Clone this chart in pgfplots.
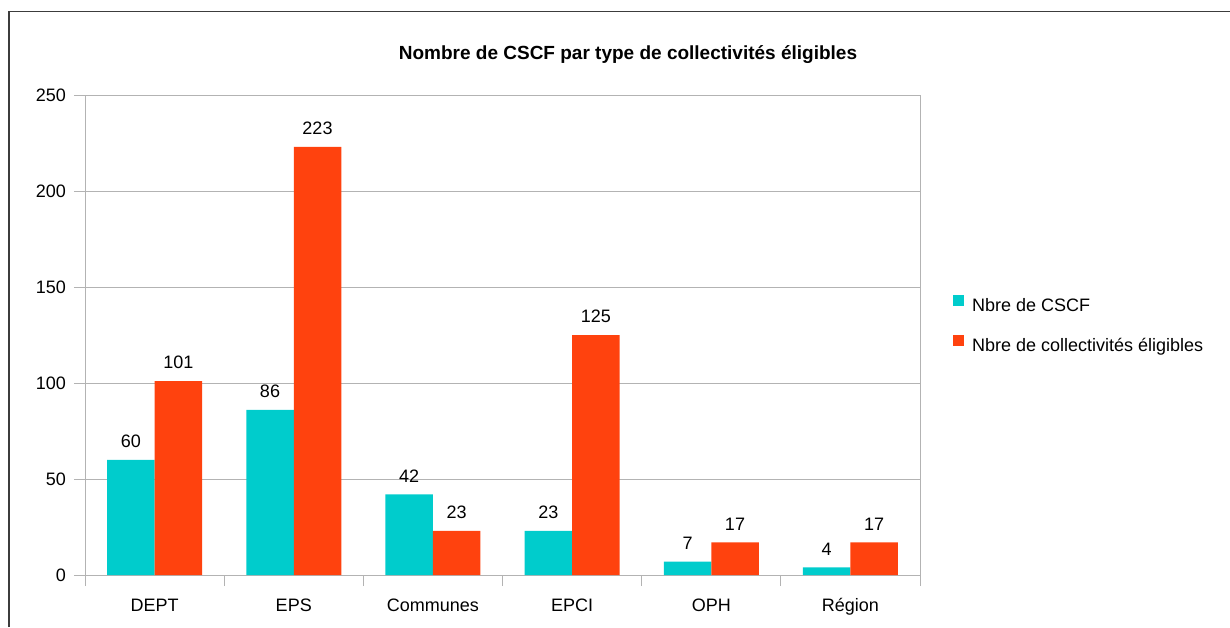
\documentclass[border=0pt]{standalone}
\usepackage{pgfplots}
\pgfplotsset{compat=1.18}
\usepackage{fontspec}
\setmainfont{Liberation Sans}
\definecolor{cyanbar}{RGB}{0,204,204}
\definecolor{orangebar}{RGB}{255,66,14}
\definecolor{gridgray}{RGB}{179,179,179}
\definecolor{framegray}{RGB}{60,60,60}
\begin{document}
\begin{tikzpicture}[x=1pt,y=1pt]
\useasboundingbox (0,0) rectangle (1230,-627);
\draw[line width=1.5pt, framegray] (9,-627) -- (9,-11.5) -- (1230,-11.5);
\node[font=\fontsize{19}{22}\selectfont\bfseries, inner sep=0pt] at (628,-54.5) {Nombre de CSCF par type de collectivités éligibles};
\begin{axis}[
  at={(85pt,-575pt)}, anchor=south west,
  scale only axis, width=835pt, height=480pt,
  ybar=0pt, bar width=47.5pt,
  xmin=-0.5, xmax=5.5, ymin=0, ymax=250,
  ytick={0,50,...,250},
  ymajorgrids, grid style={gridgray, line width=1pt},
  axis line style={gridgray, line width=1pt},
  xtick={0,...,5}, xticklabels={DEPT,EPS,Communes,EPCI,OPH,Région},
  major x tick style={draw=none},
  minor xtick={-0.5,0.5,...,5.5},
  tick pos=left,
  tick align=outside, major tick length=11pt, minor tick length=11pt,
  tick style={gridgray, line width=1pt},
  ticklabel style={font=\fontsize{18}{21.6}\selectfont, inner sep=0pt},
  xticklabel style={text height=13pt, text depth=4pt, yshift=-12pt},
  yticklabel style={xshift=-8pt},
  /pgf/number format/assume math mode=true,
  nodes near coords,
  every node near coord/.append style={font=\fontsize{18}{21.6}\selectfont, inner sep=0pt, yshift=12pt, black},
  legend style={at={(1.0395,0.52)}, anchor=west, draw=none, fill=none, inner sep=0pt,
    font=\fontsize{18}{21.6}\selectfont, row sep=20pt,
    nodes={inner sep=0pt, text height=13pt, text depth=4pt}},
  legend cell align=left,
  legend image code/.code={\fill[#1] (0pt,1pt) rectangle (11pt,12pt); \path (19pt,0pt);},
]
\addplot[fill=cyanbar, draw=none] coordinates {(0,60) (1,86) (2,42) (3,23) (4,7) (5,4)};
\addplot[fill=orangebar, draw=none] coordinates {(0,101) (1,223) (2,23) (3,125) (4,17) (5,17)};
\legend{Nbre de CSCF, Nbre de collectivités éligibles}
\end{axis}
\end{tikzpicture}
\end{document}
